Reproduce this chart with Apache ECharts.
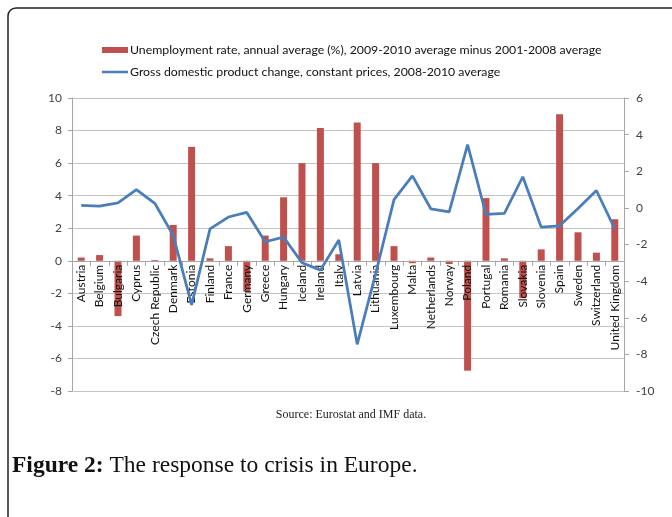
<!DOCTYPE html>
<html>
<head>
<meta charset="utf-8">
<script src="https://cdn.jsdelivr.net/npm/echarts@6/dist/echarts.min.js"></script>
<style>
  html, body { margin: 0; padding: 0; background: #ffffff; }
  #chart { width: 672px; height: 517px; }
</style>
</head>
<body>
<div id="chart"></div>
<script>
// Countries on the category axis
const countries = [
  'Austria', 'Belgium', 'Bulgaria', 'Cyprus', 'Czech Republic', 'Denmark',
  'Estonia', 'Finland', 'France', 'Germany', 'Greece', 'Hungary', 'Iceland',
  'Ireland', 'Italy', 'Latvia', 'Lithuania', 'Luxembourg', 'Malta',
  'Netherlands', 'Norway', 'Poland', 'Portugal', 'Romania', 'Slovakia',
  'Slovenia', 'Spain', 'Sweden', 'Switzerland', 'United Kingdom'
];

// Unemployment rate, 2009-2010 average minus 2001-2008 average (percentage points)
const unemploymentChange = [
  0.2, 0.35, -3.4, 1.55, 0.05, 2.2,
  7.0, 0.15, 0.9, -1.9, 1.55, 3.9, 6.0,
  8.15, 0.4, 8.5, 6.0, 0.9, -0.15,
  0.2, -0.2, -6.75, 3.85, 0.15, -2.3,
  0.7, 9.0, 1.75, 0.5, 2.55
];

// GDP change, constant prices, 2008-2010 average (%)
const gdpChange = [
  0.13, 0.1, 0.27, 1.0, 0.25, -1.5,
  -5.3, -1.15, -0.5, -0.25, -1.85, -1.6, -3.0,
  -3.4, -1.75, -7.45, -3.6, 0.45, 1.75,
  -0.05, -0.22, 3.45, -0.36, -0.3, 1.7,
  -1.05, -0.98, -0.03, 0.95, -1.15
];

// Axis ranges
const leftAxisRange = { min: -8, max: 10, step: 2 };
const rightAxisRange = { min: -10, max: 6, step: 2 };

const seriesNames = [
  'Unemployment rate, annual average (%), 2009-2010 average minus 2001-2008 average',
  'Gross domestic product change, constant prices, 2008-2010 average'
];

const sourceNote = 'Source: Eurostat and IMF data.';
const captionLead = 'Figure 2:';
const captionText = ' The response to crisis in Europe.';

const chart = echarts.init(document.getElementById('chart'), null, { renderer: 'canvas' });

const sansFont = 'Lato, "Open Sans", sans-serif';
const serifFont = '"Liberation Serif", "DejaVu Serif", serif';
const axisGrey = '#a6a6a6';

// Plot area
const gridTop = 98;
const gridHeight = 293;
// The category axis sits on the zero line of the left value axis
const zeroShift = gridHeight * (0 - leftAxisRange.min) / (leftAxisRange.max - leftAxisRange.min);

chart.setOption({
  backgroundColor: '#ffffff',
  animation: false,
  textStyle: { fontFamily: sansFont },
  grid: { left: 72, right: 48, top: gridTop, height: gridHeight, containLabel: false },
  legend: {
    orient: 'vertical',
    left: 102,
    top: 44,
    itemWidth: 26,
    itemHeight: 6,
    itemGap: 10,
    padding: 0,
    selectedMode: false,
    textStyle: { fontSize: 12.3, color: '#111', fontFamily: sansFont, padding: [0, 0, 0, -3] },
    data: [
      { name: seriesNames[0], icon: 'rect' },
      { name: seriesNames[1], icon: 'path://M0,0 L26,0 L26,2.5 L0,2.5 Z', itemStyle: { color: '#4a7ebb' } }
    ]
  },
  xAxis: {
    type: 'category',
    data: countries,
    position: 'bottom',
    offset: -zeroShift,
    z: 3,
    axisLine: { onZero: false, lineStyle: { color: axisGrey, width: 1 } },
    axisTick: { show: true, alignWithLabel: false, length: 5, lineStyle: { color: axisGrey } },
    axisLabel: {
      interval: 0,
      rotate: 90,
      margin: 4,
      fontSize: 12,
      color: '#111',
      fontFamily: sansFont
    },
    splitLine: { show: false }
  },
  yAxis: [
    {
      type: 'value',
      position: 'left',
      min: leftAxisRange.min,
      max: leftAxisRange.max,
      interval: leftAxisRange.step,
      axisLine: { show: true, onZero: false, lineStyle: { color: axisGrey } },
      axisTick: { show: true, length: 4, lineStyle: { color: axisGrey } },
      axisLabel: { fontSize: 12, color: '#404040', margin: 10, fontFamily: sansFont },
      splitLine: { show: true, lineStyle: { color: '#c4c4c4', width: 1 } }
    },
    {
      type: 'value',
      position: 'right',
      min: rightAxisRange.min,
      max: rightAxisRange.max,
      interval: rightAxisRange.step,
      axisLine: { show: true, onZero: false, lineStyle: { color: axisGrey } },
      axisTick: { show: true, length: 5, lineStyle: { color: axisGrey } },
      axisLabel: { fontSize: 12, color: '#404040', margin: 12, fontFamily: sansFont },
      splitLine: { show: false }
    }
  ],
  series: [
    {
      name: seriesNames[0],
      type: 'bar',
      yAxisIndex: 0,
      data: unemploymentChange,
      barWidth: 7,
      z: 2,
      itemStyle: { color: '#c0504d' }
    },
    {
      name: seriesNames[1],
      type: 'line',
      yAxisIndex: 1,
      data: gdpChange,
      symbol: 'none',
      smooth: false,
      z: 4,
      lineStyle: { color: '#4a7ebb', width: 2.75 },
      itemStyle: { color: '#4a7ebb' }
    }
  ],
  graphic: [
    {
      type: 'rect',
      silent: true,
      z: 0,
      shape: { x: 8, y: 8, width: 700, height: 600, r: 8 },
      style: { fill: 'none', stroke: '#222222', lineWidth: 1.5 }
    },
    {
      type: 'text',
      silent: true,
      x: 351,
      y: 415,
      style: {
        text: sourceNote,
        font: '12px ' + serifFont,
        fill: '#222',
        align: 'center',
        verticalAlign: 'middle'
      }
    },
    {
      type: 'text',
      silent: true,
      x: 12,
      y: 466,
      style: {
        text: '{b|' + captionLead + '}{r|' + captionText + '}',
        verticalAlign: 'middle',
        rich: {
          b: { fontFamily: serifFont, fontSize: 23.5, fontWeight: 'bold', fill: '#111' },
          r: { fontFamily: serifFont, fontSize: 23.5, fill: '#111' }
        }
      }
    }
  ]
});
</script>
</body>
</html>
